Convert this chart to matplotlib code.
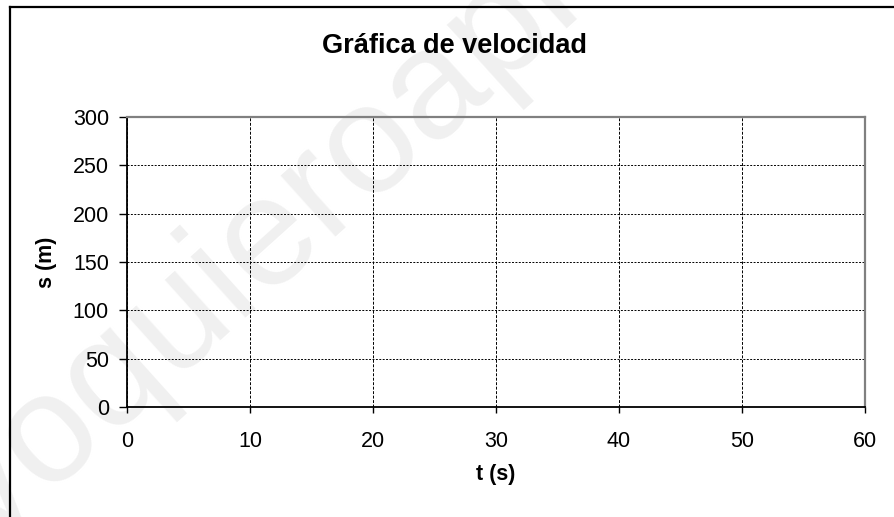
import matplotlib
matplotlib.use("Agg")
import matplotlib.pyplot as plt
from matplotlib.lines import Line2D

title = "Gráfica de velocidad"
x_label = "t (s)"
y_label = "s (m)"
x_ticks = [0, 10, 20, 30, 40, 50, 60]
y_ticks = [0, 50, 100, 150, 200, 250, 300]
watermark = "yoquieroaprobar"

plt.rcParams['font.family'] = ['Liberation Sans', 'DejaVu Sans']

W, H = 895, 517
fig = plt.figure(figsize=(W / 100, H / 100), dpi=100)

# watermark (behind everything)
fig.text(382 / W, 1 - 140 / H, watermark, rotation=42, fontsize=112, color='#f0f0f0',
         ha='center', va='center', zorder=-1)

# outer chart border (only top and left edges are visible)
fig.add_artist(Line2D([10 / W, 1.0], [1 - 7 / H, 1 - 7 / H], transform=fig.transFigure,
                      color='black', linewidth=1.6, zorder=0.5))
fig.add_artist(Line2D([10 / W, 10 / W], [0.0, 1 - 7 / H], transform=fig.transFigure,
                      color='black', linewidth=1.6, zorder=0.5))

left, right, top, bottom = 127, 865, 117, 407
ax = fig.add_axes([left / W, 1 - bottom / H, (right - left) / W, (bottom - top) / H])
ax.set_zorder(1)
ax.patch.set_alpha(0)
ax.set_xlim(x_ticks[0], x_ticks[-1])
ax.set_ylim(y_ticks[0], y_ticks[-1])
ax.set_xticks(x_ticks)
ax.set_yticks(y_ticks)
ax.tick_params(axis='both', direction='out', width=1, labelsize=15.5, colors='black')
ax.tick_params(axis='x', length=4.5, pad=12.5)
ax.tick_params(axis='y', length=6, pad=7)

ax.grid(axis='x', color='black', linestyle=(0, (3, 1.6)), linewidth=0.7)
ax.grid(axis='y', color='black', linestyle=(0, (2, 1.5)), linewidth=0.7)

for s in ['left', 'bottom']:
    ax.spines[s].set_color('black')
    ax.spines[s].set_linewidth(1.3)
for s in ['top', 'right']:
    ax.spines[s].set_color('#808080')
    ax.spines[s].set_linewidth(1.6)

ax.set_xlabel(x_label, fontsize=15.5, fontweight='bold', labelpad=9)
ax.set_ylabel(y_label, fontsize=15.5, fontweight='bold', labelpad=11)

fig.text(455 / W, 1 - 53 / H, title, fontsize=19.5, fontweight='bold', ha='center', va='baseline')

fig.savefig("out.png", dpi=100)
